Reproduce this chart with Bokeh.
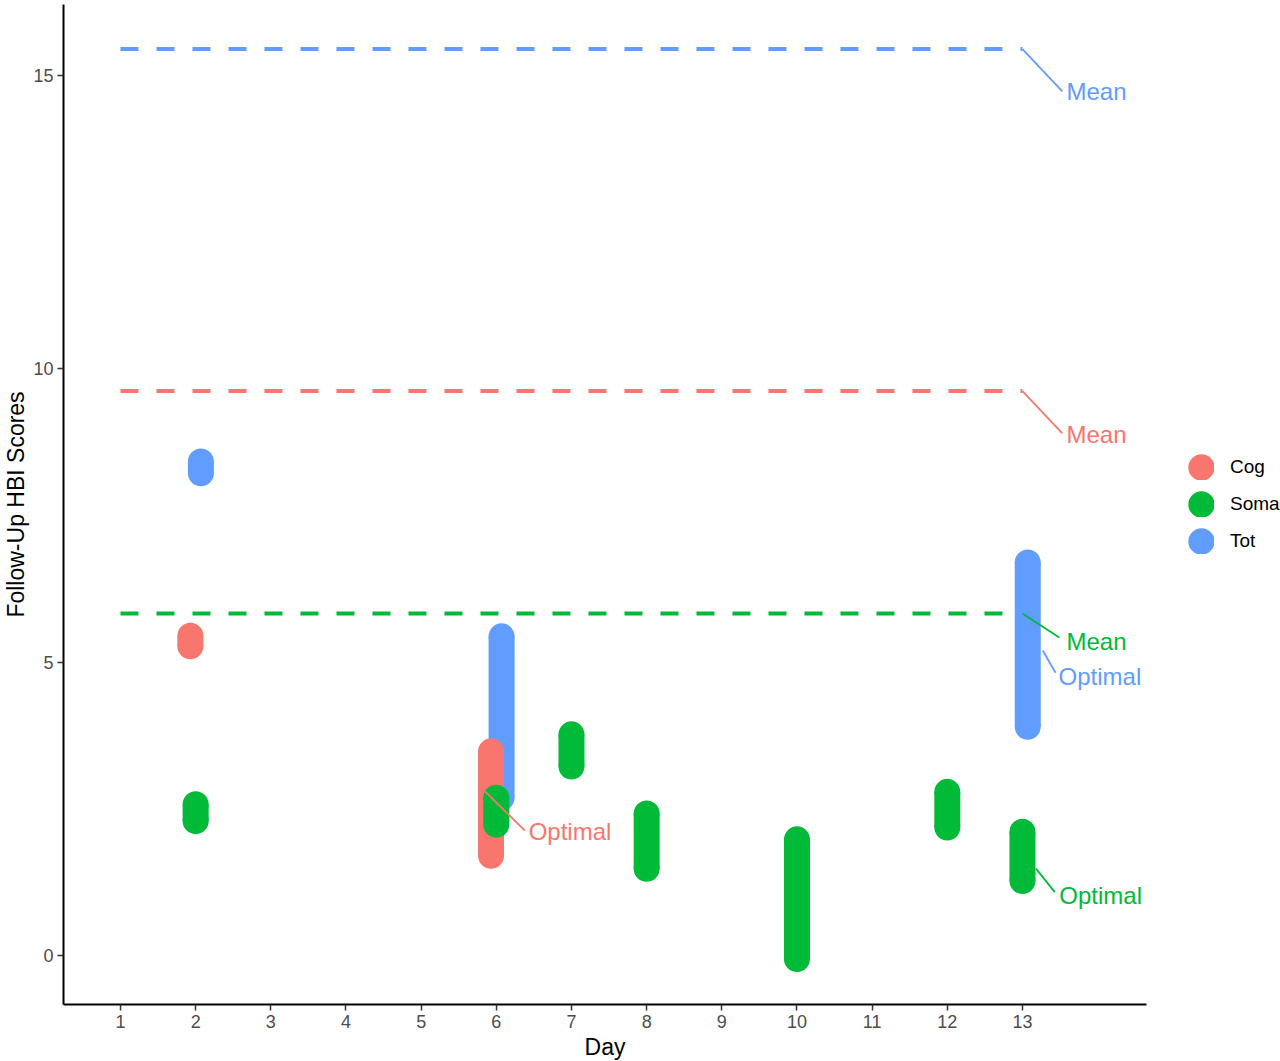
from bokeh.plotting import figure
from bokeh.models import Range1d, FixedTicker, Legend, LegendItem, ColumnDataSource
from bokeh.core.properties import value
from bokeh.embed import file_html
from bokeh.resources import INLINE

# ---------------- data ----------------
days = [1, 2, 3, 4, 5, 6, 7, 8, 9, 10, 11, 12, 13]
y_ticks = [0, 5, 10, 15]
series = ["Cog", "Soma", "Tot"]

cog_day = [2, 6]
cog_low = [5.27, 1.70]
cog_high = [5.45, 3.48]

soma_day = [2, 6, 7, 8, 10, 12, 13]
soma_low = [2.29, 2.23, 3.22, 1.48, -0.06, 2.18, 1.27]
soma_high = [2.58, 2.69, 3.77, 2.42, 1.98, 2.79, 2.11]

tot_day = [2, 6, 13]
tot_low = [8.22, 2.69, 3.90]
tot_high = [8.42, 5.44, 6.70]

mean_cog = 9.62
mean_soma = 5.83
mean_tot = 15.45

# "Optimal" label anchors (day, score)
optimal_day = [5.84, 13.18, 13.27]
optimal_score = [2.81, 1.48, 5.20]

# ---------------- styling ----------------
colors = {"Cog": "#F8766D", "Soma": "#00BA38", "Tot": "#619CFF"}
dodge = {"Cog": -0.07, "Soma": 0.0, "Tot": 0.07}
FONT = "Liberation Sans"

p = figure(
    frame_width=1083, frame_height=1000,
    x_range=Range1d(0.242, 14.65), y_range=Range1d(-0.835, 16.21),
    output_backend="svg", toolbar_location=None,
    min_border_left=63, min_border_right=134, min_border_top=4, min_border_bottom=57,
)
p.xgrid.visible = False
p.ygrid.visible = False
p.outline_line_color = None
p.background_fill_color = "white"
p.border_fill_color = "white"

for ax in (p.xaxis[0], p.yaxis[0]):
    ax.axis_line_width = 2
    ax.axis_line_color = "black"
    ax.major_tick_line_color = "#333333"
    ax.major_tick_line_width = 1.5
    ax.major_tick_out = 6
    ax.major_tick_in = 0
    ax.minor_tick_line_color = None
    ax.major_label_text_font = FONT
    ax.major_label_text_font_size = "18px"
    ax.major_label_text_color = "#4D4D4D"
    ax.axis_label_text_font = FONT
    ax.axis_label_text_font_size = "23px"
    ax.axis_label_text_font_style = "normal"
    ax.axis_label_text_color = "black"

p.xaxis.ticker = FixedTicker(ticks=days)
p.yaxis.ticker = FixedTicker(ticks=y_ticks)
p.xaxis.axis_label = "Day"
p.yaxis.axis_label = "Follow-Up HBI Scores"
p.xaxis.major_label_standoff = 4
p.xaxis.axis_label_standoff = 3
p.yaxis.major_label_standoff = 4
p.yaxis.axis_label_standoff = 1

# mean dashed lines
means = {"Cog": mean_cog, "Soma": mean_soma, "Tot": mean_tot}
for s in ["Tot", "Cog", "Soma"]:
    p.segment(x0=[min(days)], y0=[means[s]], x1=[max(days)], y1=[means[s]],
              line_color=colors[s], line_width=4, line_dash="18 18", line_cap="butt")

# score ranges: thick bar between the lowest and highest score, with round ends
bar_data = {
    "Cog": (cog_day, cog_low, cog_high),
    "Soma": (soma_day, soma_low, soma_high),
    "Tot": (tot_day, tot_low, tot_high),
}
point_renderers = {}
for s in ["Tot", "Cog", "Soma"]:
    d, lo, hi = bar_data[s]
    xs = [v + dodge[s] for v in d]
    src = ColumnDataSource(dict(x=xs, lo=lo, hi=hi))
    p.segment(x0="x", y0="lo", x1="x", y1="hi", source=src,
              line_color=colors[s], line_width=26, line_cap="butt")
    ends = ColumnDataSource(dict(x=xs + xs, y=lo + hi))
    point_renderers[s] = p.scatter(x="x", y="y", source=ends, marker="circle", size=10,
                                   fill_color=colors[s], line_color=colors[s], line_width=16)

# labels (ggrepel-like)
lab = dict(x0=[], y0=[], x1=[], y1=[], tx=[], ty=[], text=[], color=[])
mean_nudge = {"Tot": (0.53, -0.72, -0.73), "Cog": (0.53, -0.72, -0.74), "Soma": (0.49, -0.41, -0.48)}
for s in ["Tot", "Cog", "Soma"]:
    dx, dy, ty = mean_nudge[s]
    m = means[s]
    lab["x0"].append(max(days)); lab["y0"].append(m)
    lab["x1"].append(max(days) + dx); lab["y1"].append(m + dy)
    lab["tx"].append(max(days) + 0.585); lab["ty"].append(m + ty)
    lab["text"].append("Mean"); lab["color"].append(colors[s])
opt_nudge = [(0.54, -0.68, 0.59, -0.70), (0.25, -0.40, 0.31, -0.46), (0.17, -0.38, 0.21, -0.44)]
for s, od, osc, (dx, dy, tdx, tdy) in zip(series, optimal_day, optimal_score, opt_nudge):
    lab["x0"].append(od); lab["y0"].append(osc)
    lab["x1"].append(od + dx); lab["y1"].append(osc + dy)
    lab["tx"].append(od + tdx); lab["ty"].append(osc + tdy)
    lab["text"].append("Optimal"); lab["color"].append(colors[s])
lsrc = ColumnDataSource(lab)
p.segment(x0="x0", y0="y0", x1="x1", y1="y1", source=lsrc, line_color="color", line_width=1.8)
p.text(x="tx", y="ty", text="text", source=lsrc, text_color="color",
       text_font=value(FONT), text_font_size=value("24px"),
       text_baseline="middle", text_align="left")

legend = Legend(
    items=[LegendItem(label=s, renderers=[point_renderers[s]]) for s in series],
    location=(42, 450), glyph_width=26, glyph_height=26, label_standoff=16,
    spacing=11, padding=0, margin=0,
    label_text_font=FONT, label_text_font_size="19px", label_text_color="black",
    border_line_color=None, background_fill_alpha=0,
)
p.add_layout(legend, "right")

open("out.html", "w").write(file_html(p, INLINE))
